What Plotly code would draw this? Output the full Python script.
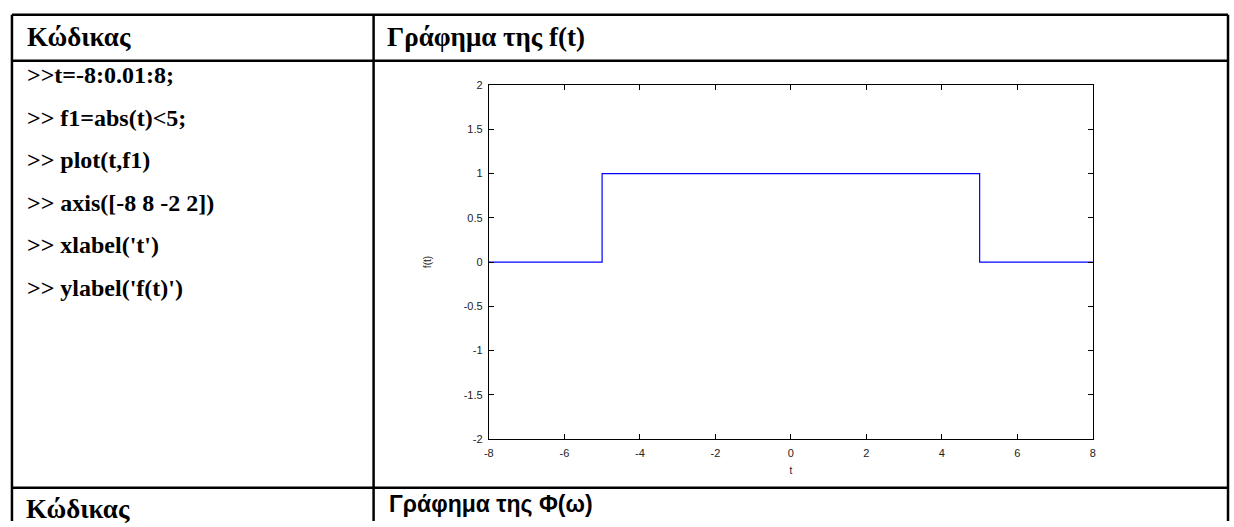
import plotly.graph_objects as go

W, H = 1234, 527

# MATLAB session shown in the left column
code_lines = [
    ">>t=-8:0.01:8;",
    ">> f1=abs(t)<5;",
    ">> plot(t,f1)",
    ">> axis([-8 8 -2 2])",
    ">> xlabel('t')",
    ">> ylabel('f(t)')",
]

# rectangular pulse f(t) = 1 for |t| < 5, sampled at its breakpoints
t_vals = [-8, -5, -5, 5, 5, 8]
f_vals = [0, 0, 1, 1, 0, 0]

x_tick_vals = [-8, -6, -4, -2, 0, 2, 4, 6, 8]
x_tick_text = ["-8", "-6", "-4", "-2", "0", "2", "4", "6", "8"]
y_tick_vals = [-2, -1.5, -1, -0.5, 0, 0.5, 1, 1.5, 2]
y_tick_text = ["-2", "-1.5", "-1", "-0.5", "0", "0.5", "1", "1.5", "2"]


def px(x):
    return x / W


def py(y):
    return 1 - y / H


SERIF = "Liberation Serif, Times New Roman, serif"
SANS = "Liberation Sans, Arial, sans-serif"

fig = go.Figure()
fig.add_trace(go.Scatter(x=t_vals, y=f_vals, mode="lines",
                         line=dict(color="#0000ff", width=1.2),
                         hoverinfo="skip", showlegend=False))

# plot frame in the right-hand cell
ax_left, ax_right, ax_top, ax_bottom = 487, 1095, 81, 443

axis_common = dict(showline=True, linecolor="black", linewidth=1,
                   mirror="ticks", ticks="inside", ticklen=5,
                   tickcolor="black", showgrid=False, zeroline=False,
                   tickfont=dict(family=SANS, size=11, color="#222"))

fig.update_layout(
    width=W, height=H,
    margin=dict(l=0, r=0, t=0, b=0),
    paper_bgcolor="white", plot_bgcolor="white",
    xaxis=dict(domain=[px(ax_left), px(ax_right)], range=[-8, 8],
               tickvals=x_tick_vals, ticktext=x_tick_text,
               ticklabelstandoff=4,
               title=dict(text="t", font=dict(family=SANS, size=10, color="#222"),
                          standoff=8),
               **axis_common),
    yaxis=dict(domain=[py(ax_bottom), py(ax_top)], range=[-2, 2],
               tickvals=y_tick_vals, ticktext=y_tick_text,
               ticklabelstandoff=3,
               title=dict(text="f(t)", font=dict(family=SANS, size=10, color="#222"),
                          standoff=30),
               **axis_common),
)

# table rules
border = dict(color="black", width=2.5)
x_l, x_mid, x_r = 7, 371, 1231
y_top, y_head, y_row2 = 9, 56, 493
shapes = [
    dict(type="line", x0=px(x_l), x1=px(x_r), y0=py(y_top), y1=py(y_top)),
    dict(type="line", x0=px(x_l), x1=px(x_r), y0=py(y_head), y1=py(y_head)),
    dict(type="line", x0=px(x_l), x1=px(x_r), y0=py(y_row2), y1=py(y_row2)),
    dict(type="line", x0=px(x_l), x1=px(x_l), y0=py(y_top), y1=0),
    dict(type="line", x0=px(x_mid), x1=px(x_mid), y0=py(y_top), y1=0),
    dict(type="line", x0=px(x_r), x1=px(x_r), y0=py(y_top), y1=0),
]
for s in shapes:
    s.update(xref="paper", yref="paper", line=border)
fig.update_layout(shapes=shapes)

ann = []


def text(x, y, s, family, size):
    ann.append(dict(x=px(x), y=py(y), xref="paper", yref="paper",
                    text=s, showarrow=False, xanchor="left", yanchor="middle",
                    font=dict(family=family, size=size, color="black")))


text(20, 32, "<b>Κώδικας</b>", SERIF, 27)
text(382, 32, "<b>Γράφημα της f(t)</b>", SERIF, 27)
for i, line in enumerate(code_lines):
    text(20, 71 + 43.5 * i, "<b>" + line + "</b>", SERIF, 24)
text(19, 515, "<b>Κώδικας</b>", SERIF, 27)
text(384, 510, "<b>Γράφημα της Φ(ω)</b>", SANS, 23)

fig.update_layout(annotations=ann)

fig.write_html("out.html")
